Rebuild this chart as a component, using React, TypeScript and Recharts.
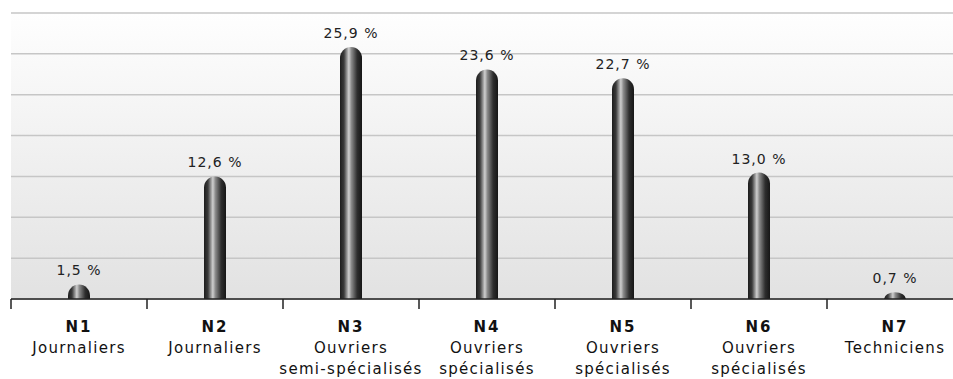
import React from 'react';
import { BarChart, Bar, XAxis, YAxis, CartesianGrid, LabelList } from 'recharts';

const levels = ['N1', 'N2', 'N3', 'N4', 'N5', 'N6', 'N7'];
const titles = [
  ['Journaliers'],
  ['Journaliers'],
  ['Ouvriers', 'semi-spécialisés'],
  ['Ouvriers', 'spécialisés'],
  ['Ouvriers', 'spécialisés'],
  ['Ouvriers', 'spécialisés'],
  ['Techniciens'],
];
const shares = [1.5, 12.6, 25.9, 23.6, 22.7, 13.0, 0.7];
const gridTicks = [0, 4.2, 8.4, 12.6, 16.8, 21, 25.2, 29.4];

const CHART_W = 963;
const CHART_H = 379;
const MARGIN = { top: 13, right: 0, left: 11, bottom: 0 };
const band = (CHART_W - MARGIN.left - MARGIN.right) / levels.length;
const FONT = '"DejaVu Sans", sans-serif';

const data = levels.map((level, i) => ({ level, lines: titles[i], share: shares[i] }));

const fmt = (v: any) => Number(v).toFixed(1).replace('.', ',') + ' %';

const CategoryTick = (props: any) => {
  const { x, y, index } = props;
  const lines = titles[index] || [];
  return (
    <g>
      <line x1={x - band / 2} x2={x - band / 2} y1={y} y2={y + 10} stroke="#222" strokeWidth={1.5} />
      <text x={x} y={y + 33} textAnchor="middle" fontFamily={FONT} fontWeight="bold" fontSize={15} letterSpacing={2} fill="#111">
        {levels[index]}
      </text>
      {lines.map((t: string, k: number) => (
        <text key={k} x={x} y={y + 54 + k * 21} textAnchor="middle" fontFamily={FONT} fontSize={15} letterSpacing={1.3} fill="#111">
          {t}
        </text>
      ))}
    </g>
  );
};

// tube with a domed top
const Tube = (props: any) => {
  const { x, y, width, height } = props;
  if (!height || height <= 0) return null;
  const r = Math.min(width / 2, height);
  const d = `M${x},${y + height} L${x},${y + r} A${width / 2},${r} 0 0 1 ${x + width},${y + r} L${x + width},${y + height} Z`;
  return <path d={d} fill="url(#tube)" />;
};

const ValueLabel = (props: any) => {
  const { x, y, width, value } = props;
  return (
    <text x={x + width / 2} y={y - 9} textAnchor="middle" fontFamily={FONT} fontSize={14} letterSpacing={1} fill="#222">
      {fmt(value)}
    </text>
  );
};

export default function App() {
  return (
    <div style={{ position: 'absolute', top: 0, left: 0, width: 953, height: 379, overflow: 'hidden', background: '#fff' }}>
      <BarChart width={CHART_W} height={CHART_H} data={data} margin={MARGIN} barCategoryGap={0}>
        <defs>
          <linearGradient id="bg" x1="0" y1="0" x2="0" y2="1">
            <stop offset="0%" stopColor="#fefefe" />
            <stop offset="100%" stopColor="#e2e2e2" />
          </linearGradient>
          <linearGradient id="tube" x1="0" y1="0" x2="1" y2="0">
            <stop offset="0%" stopColor="#1c1c1c" />
            <stop offset="18%" stopColor="#3a3a3a" />
            <stop offset="40%" stopColor="#cfcfcf" />
            <stop offset="52%" stopColor="#8a8a8a" />
            <stop offset="78%" stopColor="#2e2e2e" />
            <stop offset="100%" stopColor="#161616" />
          </linearGradient>
        </defs>
        <CartesianGrid vertical={false} fill="url(#bg)" stroke="#c6c6c6" strokeWidth={1.5} />
        <YAxis hide domain={[0, 29.4]} ticks={gridTicks} />
        <XAxis
          dataKey="level"
          height={80}
          interval={0}
          tickLine={false}
          tickSize={0}
          tickMargin={0}
          axisLine={{ stroke: '#222', strokeWidth: 1.5 }}
          tick={<CategoryTick />}
        />
        <Bar dataKey="share" barSize={22} shape={<Tube />} isAnimationActive={false}>
          <LabelList dataKey="share" content={<ValueLabel />} />
        </Bar>
      </BarChart>
    </div>
  );
}
